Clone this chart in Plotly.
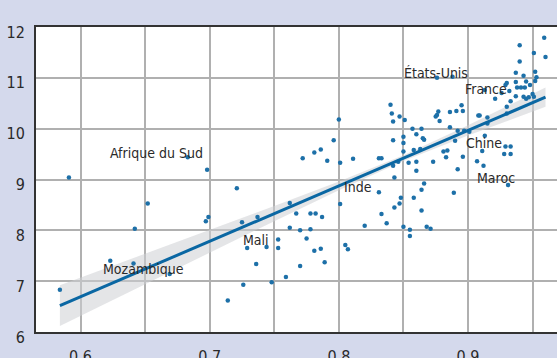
import plotly.graph_objects as go

# Scatter data
pts_x = [0.584, 0.591, 0.623, 0.641, 0.642, 0.652, 0.669, 0.683, 0.697, 0.699,
         0.698, 0.714, 0.721, 0.725, 0.726, 0.729, 0.736, 0.737, 0.744, 0.748,
         0.753, 0.753, 0.759, 0.762, 0.762, 0.767, 0.770, 0.770, 0.775, 0.778,
         0.778, 0.781, 0.782, 0.786, 0.787, 0.789, 0.772, 0.781, 0.786, 0.791,
         0.796, 0.800, 0.801, 0.801, 0.805, 0.807, 0.811, 0.820, 0.831, 0.833,
         0.831, 0.833, 0.837, 0.840, 0.841, 0.842, 0.842, 0.842, 0.843, 0.843,
         0.846, 0.847, 0.847, 0.848, 0.850, 0.850, 0.850, 0.850, 0.851, 0.854,
         0.855, 0.855, 0.857, 0.858, 0.858, 0.860, 0.860, 0.860, 0.863, 0.864,
         0.864, 0.864, 0.865, 0.866, 0.866, 0.868, 0.871, 0.873, 0.875, 0.876,
         0.877, 0.878, 0.876, 0.881, 0.884, 0.883, 0.886, 0.886, 0.888, 0.889,
         0.890, 0.891, 0.892, 0.892, 0.895, 0.896, 0.896, 0.897, 0.901, 0.907,
         0.908, 0.909, 0.911, 0.912, 0.913, 0.913, 0.915, 0.915, 0.921, 0.926,
         0.928, 0.929, 0.929, 0.930, 0.930, 0.930, 0.931, 0.932, 0.933, 0.933,
         0.933, 0.937, 0.937, 0.937, 0.938, 0.940, 0.940, 0.941, 0.943, 0.943,
         0.944, 0.945, 0.945, 0.947, 0.948, 0.950, 0.951, 0.951, 0.952, 0.952,
         0.953, 0.959, 0.960]
pts_y = [6.83, 9.04, 7.40, 7.35, 8.03, 8.53, 7.14, 9.44, 8.18, 8.26,
         9.19, 6.62, 8.83, 8.16, 6.93, 7.65, 7.34, 8.26, 7.67, 6.98,
         7.82, 7.65, 7.08, 8.54, 8.05, 8.33, 7.30, 8.00, 7.84, 8.33,
         8.02, 7.60, 8.33, 7.64, 8.26, 7.37, 9.42, 9.53, 9.59, 9.37,
         9.77, 10.18, 9.33, 8.52, 7.71, 7.63, 9.41, 8.09, 9.42, 9.42,
         8.75, 8.32, 8.14, 10.47, 10.30, 10.14, 9.77, 9.27, 9.04, 8.45,
         9.35, 10.24, 8.53, 8.64, 9.84, 9.72, 9.55, 8.07, 10.17, 9.33,
         8.01, 7.89, 10.00, 9.58, 8.64, 9.89, 9.35, 9.17, 9.60, 10.00,
         8.80, 8.39, 9.81, 9.78, 8.92, 8.07, 8.03, 9.35, 10.24, 10.27,
         10.34, 10.15, 11.00, 9.55, 9.57, 9.44, 10.33, 10.03, 11.02, 8.74,
         9.76, 10.35, 9.96, 9.20, 10.46, 10.35, 9.45, 9.96, 9.94, 9.36,
         10.26, 10.26, 9.56, 9.27, 10.76, 9.86, 10.22, 10.10, 10.59, 10.70,
         9.50, 9.65, 10.86, 10.90, 10.43, 10.30, 8.89, 10.74, 10.54, 9.65,
         9.50, 11.10, 10.92, 10.64, 10.81, 11.64, 11.32, 10.81, 11.04, 10.63,
         10.81, 10.93, 10.59, 10.62, 10.86, 10.68, 11.49, 10.63, 11.12, 10.94,
         11.01, 11.79, 11.41]

# Fitted line and its confidence band
fit_x = [0.584, 0.65, 0.70, 0.75, 0.80, 0.85, 0.90, 0.96]
fit_y = [6.52, 7.24, 7.785, 8.33, 8.875, 9.42, 9.966, 10.62]
band_hw = [0.40, 0.30, 0.22, 0.15, 0.085, 0.055, 0.10, 0.19]

# Country labels
lab_text = ["Afrique du Sud", "États-Unis", "France", "Chine", "Maroc",
            "Inde", "Mali", "Mozambique"]
lab_x = [0.659, 0.875, 0.914, 0.912, 0.922, 0.815, 0.736, 0.649]
lab_y = [9.52, 11.10, 10.79, 9.71, 9.02, 8.85, 7.81, 7.24]

# Axis ticks
x_ticks = [0.6, 0.7, 0.8, 0.9]
y_ticks = [6, 7, 8, 9, 10, 11, 12]

FONT = "DejaVu Sans Condensed, Roboto, sans-serif"
BG = "#d4d9ec"

band_upper = [y + h for y, h in zip(fit_y, band_hw)]
band_lower = [y - h for y, h in zip(fit_y, band_hw)]

fig = go.Figure()
fig.add_trace(go.Scatter(
    x=fit_x + fit_x[::-1], y=band_upper + band_lower[::-1],
    fill="toself", fillcolor="rgba(205,208,212,0.55)", line=dict(width=0),
    mode="lines", hoverinfo="skip", showlegend=False))
fig.add_trace(go.Scatter(
    x=pts_x, y=pts_y, mode="markers",
    marker=dict(size=4.5, color="#1d70a8"), showlegend=False))
fig.add_trace(go.Scatter(
    x=fit_x, y=fit_y, mode="lines",
    line=dict(color="#0a67a3", width=3), showlegend=False))

for t, x, y in zip(lab_text, lab_x, lab_y):
    fig.add_annotation(x=x, y=y, text=t, showarrow=False,
                       font=dict(family=FONT, size=14, color="#2a2a2a"),
                       xanchor="center", yanchor="middle")

fig.update_layout(
    width=557, height=358,
    margin=dict(l=36, r=0, t=27, b=26, autoexpand=False),
    paper_bgcolor=BG, plot_bgcolor="white",
    font=dict(family=FONT, size=16, color="#2a2a2a"),
)
fig.update_xaxes(
    range=[0.5655, 0.9689], tickvals=x_ticks, ticktext=[str(v) for v in x_ticks],
    showgrid=True, gridcolor="#b0b0b0", gridwidth=1.5,
    minor=dict(dtick=0.05, tick0=0.6, showgrid=True, gridcolor="#b0b0b0", gridwidth=1.5),
    showline=True, linecolor="#333333", linewidth=2, mirror=True,
    ticks="", zeroline=False, ticklabelstandoff=9, automargin=False,
)
fig.update_yaxes(
    range=[6, 12], tickvals=y_ticks,
    showgrid=True, gridcolor="#b0b0b0", gridwidth=1.5,
    showline=True, linecolor="#333333", linewidth=2, mirror=False,
    ticks="", zeroline=False, ticklabelstandoff=6, ticklabelshift=5,
    automargin=False,
)

fig.write_html("out.html", config={"displayModeBar": False},
               post_script="document.body.style.margin='0';document.body.style.overflow='hidden';")
